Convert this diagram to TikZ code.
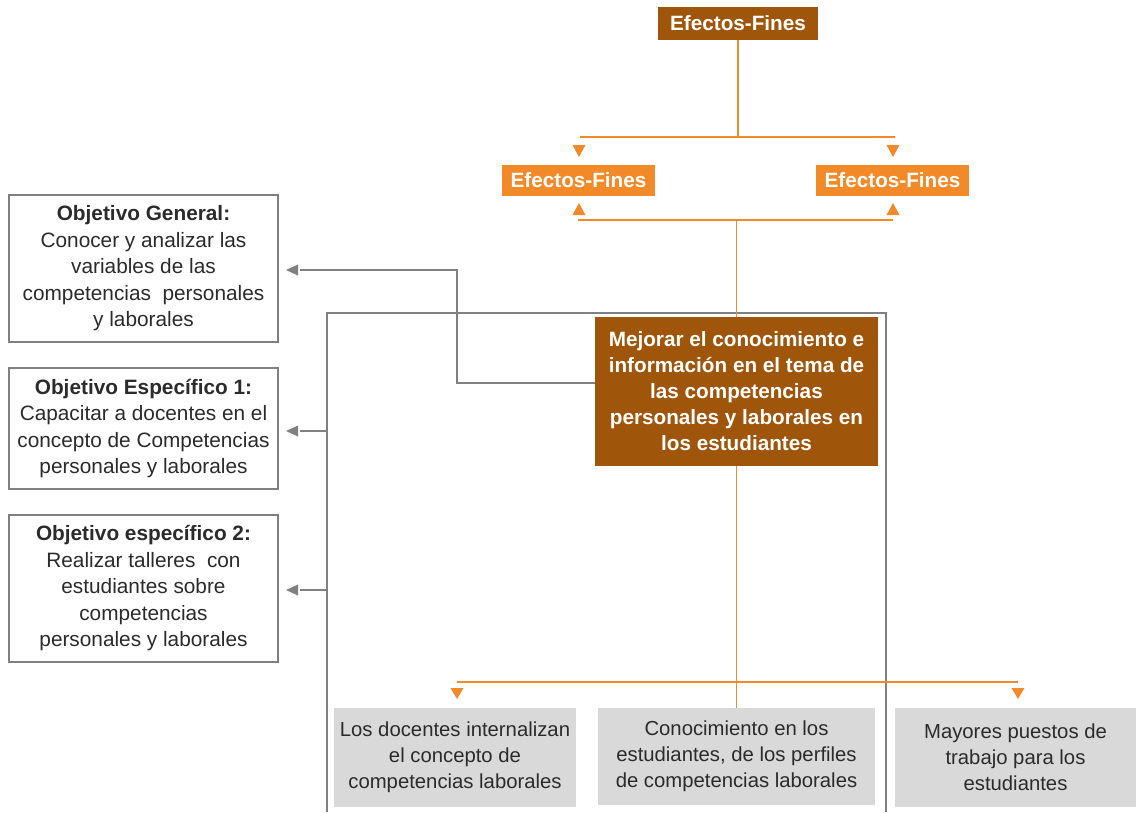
\documentclass[tikz,border=0pt]{standalone}
\usepackage{fontspec}
\setmainfont{Liberation Sans}
\definecolor{brownbox}{HTML}{9F560A}
\definecolor{orangebox}{HTML}{F28A2A}
\definecolor{orangeline}{HTML}{F28A2A}
\definecolor{graybox}{HTML}{D9D9D9}
\definecolor{grayline}{HTML}{808080}
\definecolor{darktext}{HTML}{2B2B2B}
\tikzset{
  x=1pt, y=-1pt,
  brownnode/.style={fill=brownbox, text=white, font=\bfseries\fontsize{20.7}{26}\selectfont, inner sep=0pt, align=center},
  orangenode/.style={fill=orangebox, text=white, font=\bfseries\fontsize{20.7}{26}\selectfont, inner sep=0pt, align=center},
  objnode/.style={draw=grayline, line width=1.2pt, fill=white, text=darktext, font=\fontsize{20.8}{26.5}\selectfont, inner sep=0pt, align=center, minimum width=269pt},
  resnode/.style={fill=graybox, text=darktext, font=\fontsize{20.3}{26}\selectfont, inner sep=0pt, align=center},
  oline/.style={draw=orangeline, line width=1.5pt},
  gline/.style={draw=grayline, line width=1.3pt},
}
\begin{document}
\begin{tikzpicture}
\useasboundingbox (0,0) rectangle (1136,812);
% gray bracket (behind the central box)
\coordinate (bl) at (327,812);
\coordinate (br) at (886,812);
\draw[gline] (bl) -- (327,313) -- (886,313) -- (br);

% nodes
\node[brownnode, minimum width=160pt, minimum height=33pt] (top) at (738,23.5) {Efectos-Fines};
\node[orangenode, minimum width=153pt, minimum height=31pt] (ml) at (578.5,180.5) {Efectos-Fines};
\node[orangenode, minimum width=153pt, minimum height=31pt] (mr) at (892.5,180.5) {Efectos-Fines};
\node[brownnode, minimum width=283pt, minimum height=149pt] (cen) at (736.5,391.5)
  {Mejorar el conocimiento e\\información en el tema de\\las competencias\\personales y laborales en\\los estudiantes};

\node[objnode, minimum height=147pt] (og) at (143.5,268.5)
  {\textbf{Objetivo General:}\\Conocer y analizar las\\variables de las\\competencias\ \ personales\\y laborales};
\node[objnode, minimum height=121pt] (oe1) at (143.5,428.5)
  {\textbf{Objetivo Específico 1:}\\Capacitar a docentes en el\\concepto de Competencias\\personales y laborales};
\node[objnode, minimum height=147pt] (oe2) at (143.5,588.5)
  {\textbf{Objetivo específico 2:}\\Realizar talleres\ \ con\\estudiantes sobre\\competencias\\personales y laborales};

\node[resnode, minimum width=242pt, minimum height=99pt] (b1) at (455,757.5)
  {Los docentes internalizan\\el concepto de\\competencias laborales};
\node[resnode, minimum width=277pt, minimum height=97pt] (b2) at (736.5,756.5)
  {Conocimiento en los\\estudiantes, de los perfiles\\de competencias laborales};
\node[resnode, minimum width=241pt, minimum height=99pt] (b3) at (1015.5,757.5)
  {Mayores puestos de\\trabajo para los\\estudiantes};

% orange connectors
\draw[oline] (top.south) -- (top.south |- 0,137);
\draw[oline] (580,137) -- (895,137);
\fill[orangeline] (572.5,145) -- (585.5,145) -- (579,157) -- cycle;
\fill[orangeline] (886.5,145) -- (899.5,145) -- (893,157) -- cycle;

\fill[orangeline] (572.5,215) -- (585.5,215) -- (579,203) -- cycle;
\fill[orangeline] (886.5,215) -- (899.5,215) -- (893,203) -- cycle;
\draw[oline] (578,220) -- (893,220);
\draw[oline] (cen.north |- 0,220) -- (cen.north);

\draw[oline] (cen.south) -- (b2.north);
\draw[oline] (457,682) -- (1018,682);
\fill[orangeline] (450.5,688) -- (463.5,688) -- (457,699) -- cycle;
\fill[orangeline] (1011.5,688) -- (1024.5,688) -- (1018,699) -- cycle;

% gray connectors
\draw[gline] (cen.west |- 0,383) -- (457,383) -- (457,270) -- (300,270);
\fill[grayline] (286,270) -- (298,264.5) -- (298,275.5) -- cycle;
\draw[gline] (327,431) -- (300,431);
\fill[grayline] (286,431) -- (298,425.5) -- (298,436.5) -- cycle;
\draw[gline] (327,590) -- (300,590);
\fill[grayline] (286,590) -- (298,584.5) -- (298,595.5) -- cycle;
\end{tikzpicture}
\end{document}
